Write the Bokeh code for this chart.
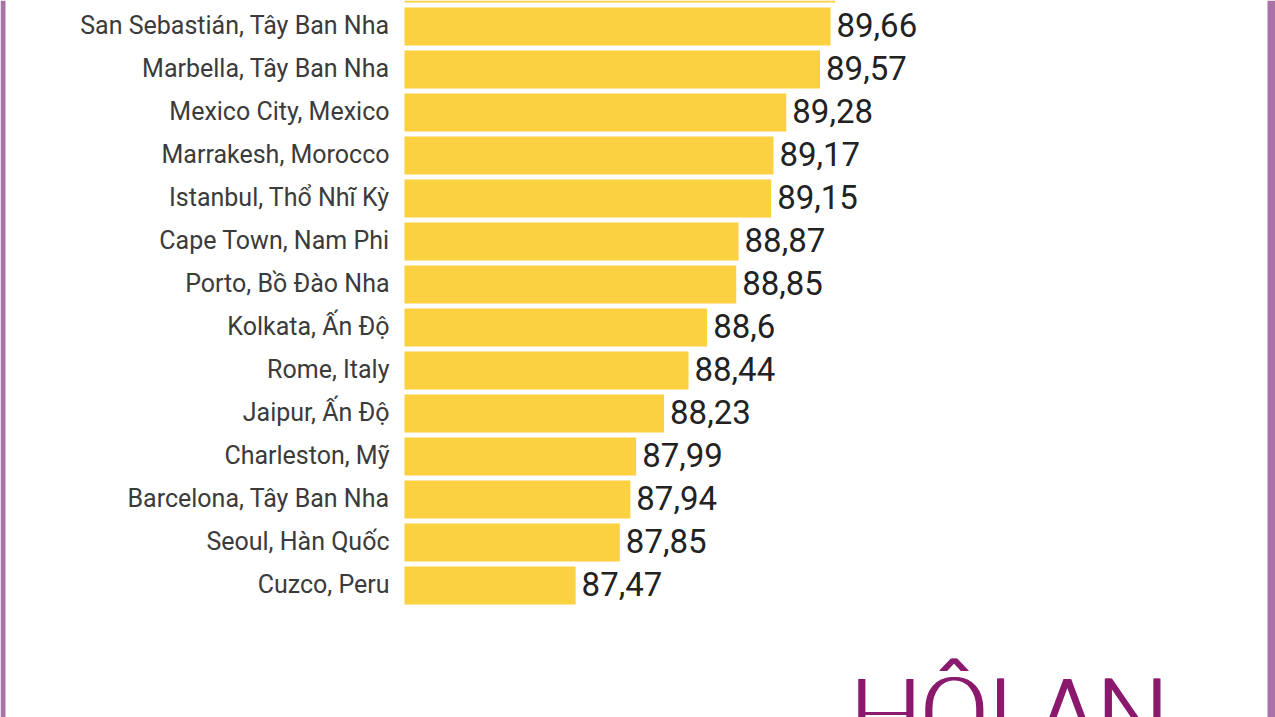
from bokeh.plotting import figure
from bokeh.models import ColumnDataSource, Range1d, BoxAnnotation
from bokeh.core.properties import value
from bokeh.embed import file_html
from bokeh.resources import INLINE

# ---- data ----
cities = [
    "San Sebastián, Tây Ban Nha",
    "Marbella, Tây Ban Nha",
    "Mexico City, Mexico",
    "Marrakesh, Morocco",
    "Istanbul, Thổ Nhĩ Kỳ",
    "Cape Town, Nam Phi",
    "Porto, Bồ Đào Nha",
    "Kolkata, Ấn Độ",
    "Rome, Italy",
    "Jaipur, Ấn Độ",
    "Charleston, Mỹ",
    "Barcelona, Tây Ban Nha",
    "Seoul, Hàn Quốc",
    "Cuzco, Peru",
]
scores = [89.66, 89.57, 89.28, 89.17, 89.15, 88.87, 88.85, 88.6, 88.44, 88.23,
          87.99, 87.94, 87.85, 87.47]
# bar above the visible area (cut off at the top of the picture)
cut_rank = [-1]
cut_score = [89.70]
axis_start = 86.0
brand = ["HỘI AN"]

ranks = list(range(len(cities)))
score_labels = [f"{v:g}".replace(".", ",") for v in scores]

src = ColumnDataSource(dict(city=cities, score=scores, rank=ranks,
                            label=score_labels, base=[axis_start] * len(scores)))
src_cut = ColumnDataSource(dict(rank=cut_rank, score=cut_score,
                                base=[axis_start] * len(cut_score)))

W, H = 1275, 717
px_per_unit = 116.4
left_px = 404
x0 = axis_start - left_px / px_per_unit
x1 = axis_start + (W - left_px) / px_per_unit
row_pitch = 43.0
row0 = 26.0
y_top = -row0 / row_pitch
y_bot = (H - row0) / row_pitch

p = figure(width=W, height=H, output_backend="svg", toolbar_location=None,
           x_range=Range1d(x0, x1), y_range=Range1d(y_bot, y_top),
           min_border=0, min_border_left=0, min_border_right=0,
           min_border_top=0, min_border_bottom=0)
p.axis.visible = False
p.grid.visible = False
p.outline_line_color = None
p.background_fill_color = "white"
p.border_fill_color = "white"

bar_color = "#FBD041"
p.hbar(y="rank", left="base", right="score", height=0.88, source=src,
       fill_color=bar_color, line_color=None)
p.hbar(y="rank", left="base", right="score", height=0.88, source=src_cut,
       fill_color=bar_color, line_color=None)

p.text(x="base", y="rank", text="city", source=src, x_offset=-15, y_offset=-1,
       text_align="right", text_baseline="middle", text_font=value("Roboto"),
       text_font_size="25px", text_color="#3b3b3b")
p.text(x="score", y="rank", text="label", source=src, x_offset=6, y_offset=-2,
       text_align="left", text_baseline="middle", text_font=value("Roboto"),
       text_font_size="33px", text_color="#222222")

# purple side borders
p.add_layout(BoxAnnotation(left=0, right=5, top=H, bottom=0,
                           left_units="screen", right_units="screen",
                           top_units="screen", bottom_units="screen",
                           fill_color="#A874A8", fill_alpha=1.0, line_color=None))
p.add_layout(BoxAnnotation(left=W - 8, right=W, top=H, bottom=0,
                           left_units="screen", right_units="screen",
                           top_units="screen", bottom_units="screen",
                           fill_color="#A874A8", fill_alpha=1.0, line_color=None))

# brand logo text at the bottom right (cut off by the bottom edge as in the
# reference); drawn with small offsets to give a heavy weight
brand_src = ColumnDataSource(dict(x=[x0 + 848 / px_per_unit],
                                  y=[(656 - row0) / row_pitch], t=brand))
for dx in (0, 1.5, 3, 4.5):
    p.text(x="x", y="y", text="t", source=brand_src, x_offset=dx,
           text_font=value("Roboto"), text_font_size="100px",
           text_color="#8B1A6E", text_align="left", text_baseline="top")

open("out.html", "w").write(file_html(p, INLINE))
